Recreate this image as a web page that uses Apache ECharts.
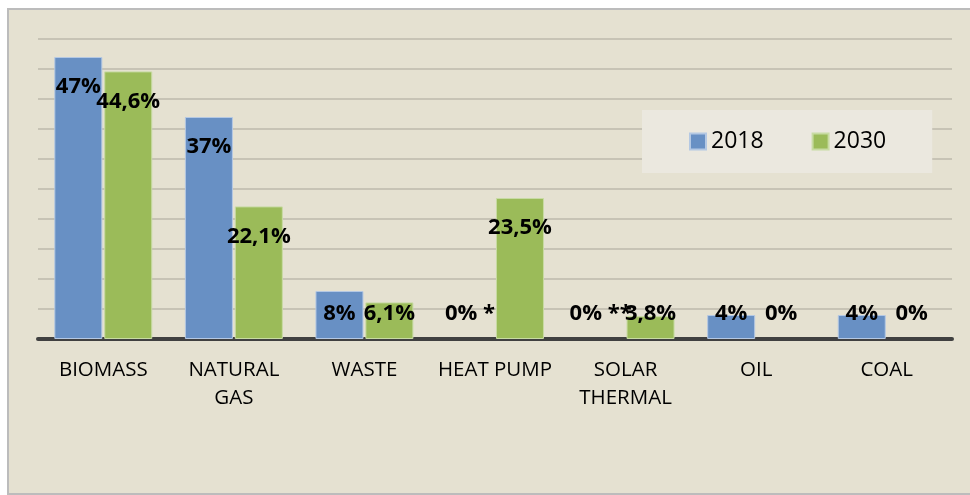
<!DOCTYPE html>
<html>
<head>
<meta charset="utf-8">
<script src="https://cdn.jsdelivr.net/npm/echarts@6/dist/echarts.min.js"></script>
<style>
  html, body { margin: 0; padding: 0; background: #ffffff; }
  #chart { width: 970px; height: 495px; }
</style>
</head>
<body>
<div id="chart"></div>
<script>
const categories = ['BIOMASS', 'NATURAL\nGAS', 'WASTE', 'HEAT PUMP', 'SOLAR\nTHERMAL', 'OIL', 'COAL'];
const values2018 = [47, 37, 8, 0, 0, 4, 4];
const values2030 = [44.6, 22.1, 6.1, 23.5, 3.8, 0, 0];
const notes2018 = ['', '', '', ' *', ' **', '', ''];
const notes2030 = ['', '', '', '', '', '', ''];
const seriesNames = ['2018', '2030'];

const FONT = 'Open Sans';

function fmt(v) {
  return String(v).replace('.', ',') + '%';
}

function buildData(vals, notes) {
  return vals.map(function (v, i) {
    const big = v >= 12;
    return {
      value: v,
      itemStyle: v === 0 ? { borderWidth: 0, borderColor: 'rgba(0,0,0,0)', color: 'rgba(0,0,0,0)' } : undefined,
      label: {
        show: true,
        position: big ? 'insideTop' : 'insideBottom',
        distance: big ? 19 : 14,
        formatter: fmt(v) + notes[i]
      }
    };
  });
}

const chart = echarts.init(document.getElementById('chart'));
chart.setOption({
  backgroundColor: '#ffffff',
  animation: false,
  graphic: [{
    type: 'rect',
    z: -10,
    silent: true,
    shape: { x: 8, y: 9, width: 975, height: 485 },
    style: { fill: '#e5e1d1', stroke: '#bcbcbc', lineWidth: 2 }
  }],
  grid: { left: 38, right: 18, top: 39, bottom: 156 },
  legend: {
    data: seriesNames,
    left: 642,
    top: 110,
    padding: [19, 46, 19, 47],
    backgroundColor: '#ebe8df',
    itemWidth: 16,
    itemHeight: 16,
    itemGap: 48,
    icon: 'rect',
    textStyle: { fontFamily: FONT, fontSize: 23, color: '#000000', lineHeight: 25 }
  },
  xAxis: {
    type: 'category',
    data: categories,
    axisLine: { lineStyle: { color: '#404040', width: 4 } },
    axisTick: { show: false },
    axisLabel: {
      fontFamily: FONT,
      fontSize: 20.5,
      color: '#000000',
      lineHeight: 28,
      margin: 17,
      interval: 0
    }
  },
  yAxis: {
    type: 'value',
    min: 0,
    max: 50,
    interval: 5,
    axisLabel: { show: false },
    axisLine: { show: false },
    axisTick: { show: false },
    splitLine: { lineStyle: { color: '#bdb9ab', width: 1.5 } }
  },
  series: [
    {
      name: seriesNames[0],
      type: 'bar',
      data: buildData(values2018, notes2018),
      barCategoryGap: '25%',
      barGap: '4%',
      itemStyle: { color: '#6890c4', borderColor: '#b4c8e3', borderWidth: 1 },
      label: { fontFamily: FONT, fontSize: 22, fontWeight: 'bold', color: '#000000' }
    },
    {
      name: seriesNames[1],
      type: 'bar',
      data: buildData(values2030, notes2030),
      barCategoryGap: '25%',
      barGap: '4%',
      itemStyle: { color: '#9bbb59', borderColor: '#c8dba3', borderWidth: 1 },
      label: { fontFamily: FONT, fontSize: 22, fontWeight: 'bold', color: '#000000' }
    }
  ]
});
</script>
</body>
</html>
